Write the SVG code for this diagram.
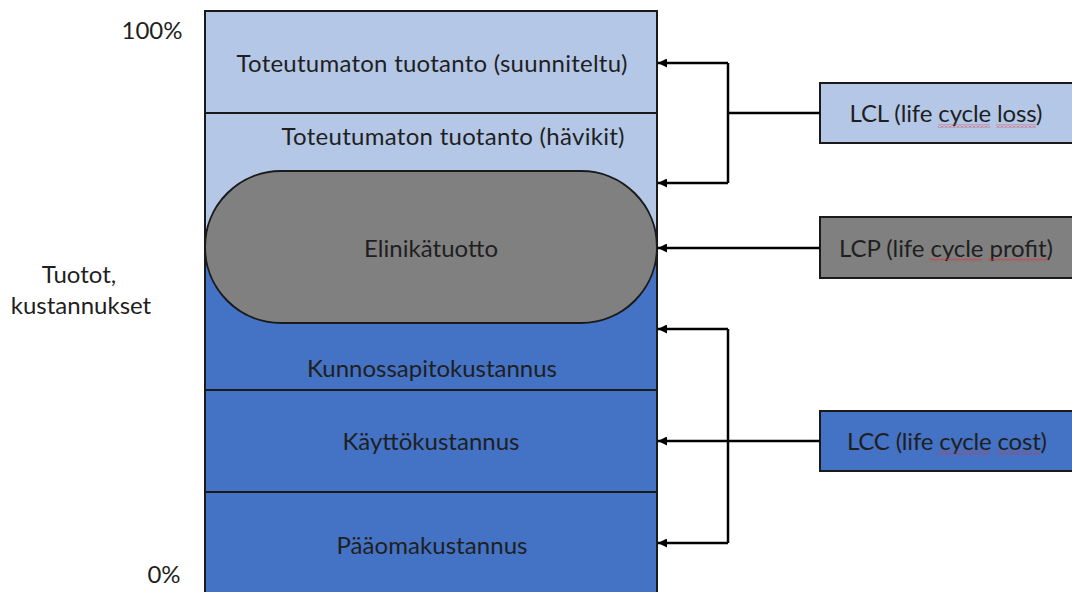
<svg xmlns="http://www.w3.org/2000/svg" width="1072" height="592" viewBox="0 0 1072 592">
<style>
text{font-family:Lato,"Liberation Sans",sans-serif;font-size:24px;fill:#1f1f1f}
.c{text-anchor:middle}
.box{stroke:#1a1a1a;stroke-width:2}
.div{stroke:#1a1a1a;stroke-width:2;fill:none}
.con{stroke:#000;stroke-width:2.5;fill:none}
</style>
<defs>
<marker id="ah" viewBox="0 0 10 10" refX="10" refY="5" markerWidth="11" markerHeight="9" markerUnits="userSpaceOnUse" orient="auto">
<path d="M0,0 L10,5 L0,10 z" fill="#000"/>
</marker>
<pattern id="squig" patternUnits="userSpaceOnUse" width="4" height="3">
<polyline points="0,2.5 2,0.5 4,2.5" fill="none" stroke="#e03030" stroke-width="1"/>
</pattern>
</defs>

<g id="axis-labels">
<text x="152" y="39" class="c">100%</text>
<text x="79" y="283" class="c">Tuotot,</text>
<text x="81" y="314" class="c">kustannukset</text>
<text x="164" y="583" class="c">0%</text>
</g>

<g id="column">
<rect x="205" y="11" width="452" height="254" fill="#b4c7e7"/>
<rect x="205" y="265" width="452" height="330" fill="#4472c4"/>
<line x1="205" y1="113" x2="657" y2="113" class="div"/>
<line x1="205" y1="390" x2="657" y2="390" class="div"/>
<line x1="205" y1="492" x2="657" y2="492" class="div"/>
<path d="M205,600 V11 H657 V600" class="div"/>
</g>

<g id="node-suunniteltu"><text x="432" y="72" class="c" textLength="391">Toteutumaton tuotanto (suunniteltu)</text></g>
<g id="node-havikit"><text x="453" y="145" class="c" textLength="343">Toteutumaton tuotanto (hävikit)</text></g>
<g id="node-elinikatuotto">
<rect x="205" y="171" width="452" height="152" rx="76" ry="76" fill="#808080" class="box"/>
<text x="431" y="257" class="c" textLength="134">Elinikätuotto</text>
</g>
<g id="node-kunnossapito"><text x="432" y="377" class="c" textLength="250">Kunnossapitokustannus</text></g>
<g id="node-kaytto"><text x="431" y="450" class="c" textLength="177">Käyttökustannus</text></g>
<g id="node-paaoma"><text x="432" y="554" class="c" textLength="191">Pääomakustannus</text></g>

<g id="node-lcl">
<rect x="820" y="83" width="270" height="60" fill="#b4c7e7" class="box"/>
<text x="946" y="122" class="c" textLength="193">LCL (life cycle loss)</text>
<rect x="938" y="124.5" width="52" height="3" fill="url(#squig)"/>
<rect x="996" y="124.5" width="40" height="3" fill="url(#squig)"/>
</g>
<g id="node-lcp">
<rect x="820" y="217" width="270" height="61" fill="#808080" class="box"/>
<text x="946" y="257" class="c" textLength="214">LCP (life cycle profit)</text>
<rect x="929" y="258.5" width="53" height="3" fill="url(#squig)"/>
<rect x="988" y="258.5" width="60" height="3" fill="url(#squig)"/>
</g>
<g id="node-lcc">
<rect x="820" y="411" width="270" height="60" fill="#4472c4" class="box"/>
<text x="947" y="450" class="c" textLength="200">LCC (life cycle cost)</text>
<rect x="937" y="451.5" width="53" height="3" fill="url(#squig)"/>
<rect x="996" y="451.5" width="44" height="3" fill="url(#squig)"/>
</g>

<g id="connectors">
<path d="M820,113 H728" class="con"/>
<path d="M728,63 V183" class="con"/>
<path d="M728,63 H658" class="con" marker-end="url(#ah)"/>
<path d="M728,183 H658" class="con" marker-end="url(#ah)"/>
<path d="M820,248 H658" class="con" marker-end="url(#ah)"/>
<path d="M728,329 V543" class="con"/>
<path d="M728,329 H658" class="con" marker-end="url(#ah)"/>
<path d="M820,441 H658" class="con" marker-end="url(#ah)"/>
<path d="M728,543 H658" class="con" marker-end="url(#ah)"/>
</g>
</svg>
